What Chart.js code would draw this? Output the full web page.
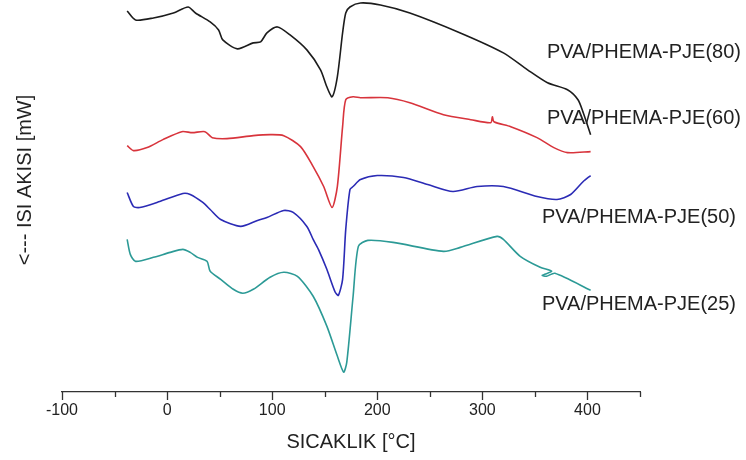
<!DOCTYPE html>
<html>
<head>
<meta charset="utf-8">
<script src="https://cdn.jsdelivr.net/npm/chart.js@4"></script>
<style>
  body { margin: 0; background: #fff; }
  canvas { display: block; }
</style>
</head>
<body>
<canvas id="dsc" width="746" height="460"></canvas>
<script>
// temperatures (°C) and heat flow (arbitrary mW, shifted per curve)
const t80 = [-38,-30,-13,6,20,27,41,49,53,67,82,89,95,105,117,133,146,152,157,162,167,170,174,184,203,231,279,320,343,362,381,391,396,403];
const y80 = [38.2,37.3,37.5,38.0,38.6,38.0,37.1,36.3,35.3,34.4,35.0,35.1,36.0,36.6,35.8,34.3,32.3,30.6,29.6,31.6,36.0,38.0,38.6,39.0,38.8,38.0,36.0,34.0,32.3,31.0,30.3,29.3,28.0,25.8];

const t60 = [-38,-32,-19,-4,14,24,36,43,57,82,98,111,127,139,149,157,162,167,170,177,184,210,231,263,289,308,309.5,311,327,352,368,381,403];
const y60 = [24.7,24.2,24.5,25.3,26.1,26.0,26.1,25.5,25.4,25.7,25.8,25.7,24.6,22.6,20.6,18.5,20.6,26.6,29.3,29.6,29.5,29.5,29.0,27.8,27.3,27.0,27.6,27.1,26.6,25.5,24.5,24.0,24.1];

const t50 = [-38,-32,-26,-7,15,22,34,41,51,70,86,95,111,120,133,139,144,152,160,163,167,170,174,177,184,200,225,248,272,295,320,352,371,384,396,403];
const y50 = [20.0,18.6,18.5,19.1,19.9,19.8,19.0,18.3,17.3,16.6,17.2,17.5,18.2,18.0,16.6,15.3,14.3,12.3,10.0,9.7,11.3,16.3,20.3,20.6,21.3,21.7,21.5,20.8,20.1,20.6,20.6,19.6,19.3,19.8,21.1,21.7];

const t25 = [-38,-35,-30,-13,3,15,22,29,38,41,51,63,72,82,98,111,124,139,152,162,168,171,177,182,191,215,263,279,314,320,336,355,366,357,361,369,403];
const y25 = [15.3,13.8,13.1,13.5,14.0,14.3,14.0,13.5,13.1,12.1,11.3,10.3,9.9,10.3,11.5,12.0,11.6,9.6,6.6,3.6,2.0,3.0,9.6,14.6,15.2,15.0,14.1,14.5,15.6,15.3,13.6,12.5,12.1,11.7,11.6,11.9,10.2];

const seriesNames = ['PVA/PHEMA-PJE(80)','PVA/PHEMA-PJE(60)','PVA/PHEMA-PJE(50)','PVA/PHEMA-PJE(25)'];
const seriesColors = ['#1c1c1c','#d8343c','#2b2bb5','#2c9a96'];
const xTicks = [-100,0,100,200,300,400];

function pts(xs, ys) {
  return xs.map((x, i) => ({x: x, y: ys[i]}));
}

const allData = [pts(t80,y80), pts(t60,y60), pts(t50,y50), pts(t25,y25)];

// label positions next to the curves
const labelPos = [[741,52],[741,118],[736,217],[736,304]];

const extras = {
  id: 'extras',
  afterDraw(chart) {
    const ctx = chart.ctx;
    const xs = chart.scales.x;
    const base = chart.chartArea.bottom;
    ctx.save();
    ctx.strokeStyle = '#333';
    ctx.lineWidth = 1.3;
    for (let v = -100; v <= 450; v += 50) {
      const px = Math.round(xs.getPixelForValue(v)) + 0.5;
      const len = (v % 100 === 0) ? 8 : 5;
      ctx.beginPath();
      ctx.moveTo(px, base);
      ctx.lineTo(px, base + len);
      ctx.stroke();
    }
    ctx.fillStyle = '#222';
    ctx.font = '20px "Liberation Sans", Arial, sans-serif';
    ctx.textAlign = 'right';
    ctx.textBaseline = 'middle';
    seriesNames.forEach((n, i) => {
      ctx.fillText(n, labelPos[i][0], labelPos[i][1]);
    });
    ctx.translate(25, 180);
    ctx.rotate(-Math.PI / 2);
    ctx.textAlign = 'center';
    ctx.fillText('<--- ISI AKISI [mW]', 0, 0);
    ctx.restore();
  }
};

new Chart("dsc", {
  type: 'line',
  data: {
    datasets: allData.map((d, i) => ({
      label: seriesNames[i],
      data: d,
      borderColor: seriesColors[i],
      borderWidth: 1.6,
      pointRadius: 0,
      tension: 0.25,
      fill: false,
      clip: false
    }))
  },
  options: {
    responsive: false,
    animation: false,
    layout: { padding: { left: 62, right: 106, top: 0, bottom: 0 } },
    plugins: { legend: { display: false }, tooltip: { enabled: false } },
    scales: {
      x: {
        type: 'linear',
        min: -100,
        max: 450,
        afterBuildTicks: (axis) => { axis.ticks = xTicks.map(v => ({value: v})); },
        grid: { display: false, drawTicks: false },
        border: { display: true, color: '#333', width: 1.3 },
        ticks: {
          padding: 11,
          color: '#222',
          font: { family: '"Liberation Sans", Arial, sans-serif', size: 16, lineHeight: 1 }
        },
        title: {
          display: true,
          text: 'SICAKLIK [°C]',
          color: '#222',
          padding: { top: 0, bottom: 6 },
          font: { family: '"Liberation Sans", Arial, sans-serif', size: 20 }
        }
      },
      y: {
        display: false,
        min: 0,
        max: 39.3
      }
    }
  },
  plugins: [extras]
});
</script>
</body>
</html>
